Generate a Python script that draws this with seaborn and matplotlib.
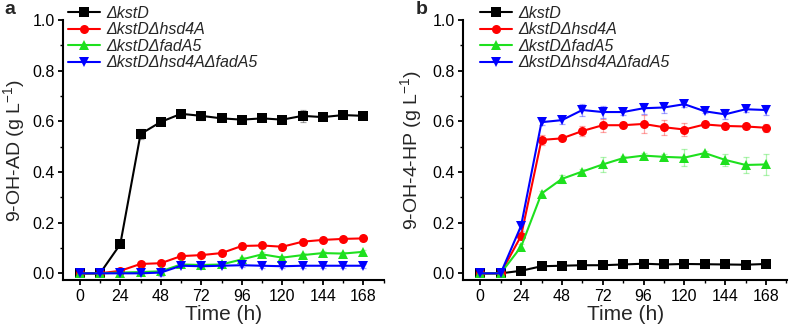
import numpy as np
import pandas as pd
import matplotlib
matplotlib.use("Agg")
import matplotlib.pyplot as plt
from matplotlib.ticker import MultipleLocator
import seaborn as sns

time_h = [0, 12, 24, 36, 48, 60, 72, 84, 96, 108, 120, 132, 144, 156, 168]
strains = ["ΔkstD", "ΔkstDΔhsd4A", "ΔkstDΔfadA5", "ΔkstDΔhsd4AΔfadA5"]

# Panel a: 9-OH-AD (g/L)
a_kstD = [0, 0, 0.115, 0.55, 0.598, 0.63, 0.622, 0.612, 0.607, 0.612, 0.607, 0.622, 0.617, 0.625, 0.622]
a_hsd4A = [0, 0, 0.01, 0.037, 0.04, 0.068, 0.072, 0.08, 0.108, 0.11, 0.105, 0.125, 0.132, 0.136, 0.138]
a_fadA5 = [0, 0, 0.003, 0.005, 0.008, 0.035, 0.033, 0.035, 0.055, 0.075, 0.062, 0.072, 0.08, 0.078, 0.085]
a_triple = [0, 0, 0, 0, 0.003, 0.03, 0.028, 0.03, 0.032, 0.03, 0.028, 0.03, 0.03, 0.03, 0.03]
a_kstD_err = [0, 0, 0.005, 0.02, 0.006, 0.008, 0.015, 0.012, 0.008, 0.01, 0.008, 0.025, 0.01, 0.01, 0.01]
a_hsd4A_err = [0, 0, 0.005, 0.006, 0.008, 0.008, 0.008, 0.008, 0.01, 0.01, 0.01, 0.01, 0.008, 0.008, 0.01]
a_fadA5_err = [0, 0, 0.004, 0.005, 0.006, 0.006, 0.006, 0.006, 0.008, 0.008, 0.008, 0.008, 0.008, 0.008, 0.008]
a_triple_err = [0, 0, 0.008, 0.008, 0.015, 0.006, 0.006, 0.006, 0.008, 0.008, 0.008, 0.008, 0.008, 0.008, 0.008]

# Panel b: 9-OH-4-HP (g/L)
b_kstD = [0, 0, 0.01, 0.028, 0.03, 0.032, 0.032, 0.035, 0.038, 0.035, 0.037, 0.036, 0.035, 0.034, 0.037]
b_hsd4A = [0, 0, 0.148, 0.527, 0.533, 0.562, 0.585, 0.585, 0.59, 0.577, 0.568, 0.588, 0.582, 0.58, 0.575]
b_fadA5 = [0, 0, 0.105, 0.315, 0.373, 0.402, 0.43, 0.455, 0.465, 0.46, 0.457, 0.475, 0.448, 0.428, 0.43]
b_triple = [0, 0, 0.188, 0.597, 0.605, 0.645, 0.637, 0.637, 0.652, 0.655, 0.668, 0.64, 0.628, 0.648, 0.645]
b_kstD_err = [0, 0, 0.004, 0.005, 0.005, 0.005, 0.005, 0.005, 0.005, 0.005, 0.005, 0.005, 0.005, 0.005, 0.008]
b_hsd4A_err = [0, 0, 0.01, 0.02, 0.01, 0.02, 0.025, 0.012, 0.035, 0.03, 0.025, 0.01, 0.01, 0.008, 0.015]
b_fadA5_err = [0, 0, 0.01, 0.01, 0.015, 0.01, 0.03, 0.01, 0.012, 0.01, 0.035, 0.01, 0.025, 0.03, 0.04]
b_triple_err = [0, 0, 0.02, 0.01, 0.015, 0.025, 0.025, 0.013, 0.022, 0.02, 0.012, 0.008, 0.02, 0.01, 0.02]

colors = ["#000000", "#ff0000", "#1ee01e", "#0000ff"]
markers = ["s", "o", "^", "v"]

sns.set_theme(style="ticks")
plt.rcParams["font.family"] = ["Liberation Sans", "DejaVu Sans"]
plt.rcParams["mathtext.fontset"] = "custom"
plt.rcParams["mathtext.rm"] = "Liberation Sans"
plt.rcParams["mathtext.it"] = "Liberation Sans:italic"


def make_df(series, errs):
    rows = []
    for name, vals, es in zip(strains, series, errs):
        for t, v, e in zip(time_h, vals, es):
            rows.append({"Time": t, "Value": v, "Err": e, "Strain": name})
    return pd.DataFrame(rows)


df_a = make_df([a_kstD, a_hsd4A, a_fadA5, a_triple],
               [a_kstD_err, a_hsd4A_err, a_fadA5_err, a_triple_err])
df_b = make_df([b_kstD, b_hsd4A, b_fadA5, b_triple],
               [b_kstD_err, b_hsd4A_err, b_fadA5_err, b_triple_err])

fig = plt.figure(figsize=(7.96, 3.30), dpi=100)
ax_a = fig.add_axes([0.079, 0.151, 0.404, 0.788])
ax_b = fig.add_axes([0.582, 0.151, 0.407, 0.788])


def draw(ax, df, ylabel, letter, leg_x, ylab_x, letter_x):
    palette = dict(zip(strains, colors))
    mk = dict(zip(strains, markers))
    for name in strains:
        sub = df[df["Strain"] == name]
        ax.errorbar(sub["Time"], sub["Value"], yerr=sub["Err"], fmt="none",
                    ecolor=palette[name], alpha=0.35, elinewidth=0.9,
                    capsize=2.5, capthick=0.9, zorder=2)
    sns.lineplot(data=df, x="Time", y="Value", hue="Strain", style="Strain",
                 hue_order=strains, style_order=strains, palette=palette,
                 markers=mk, dashes=False, markersize=6.5, linewidth=1.5,
                 markeredgewidth=0, ax=ax, zorder=3)
    ax.set_xlim(-10, 180.5)
    ax.set_ylim(-0.027, 1.0)
    ax.xaxis.set_major_locator(MultipleLocator(24))
    ax.xaxis.set_minor_locator(MultipleLocator(12))
    ax.yaxis.set_major_locator(MultipleLocator(0.2))
    ax.yaxis.set_minor_locator(MultipleLocator(0.1))
    ax.yaxis.set_major_formatter(matplotlib.ticker.FormatStrFormatter("%.1f"))
    sns.despine(ax=ax)
    for s in ["left", "bottom"]:
        ax.spines[s].set_linewidth(1.5)
        ax.spines[s].set_color("black")
    ax.tick_params(axis="both", which="major", direction="out", length=3.5,
                   width=1.3, labelsize=11.5, colors="black", pad=2.5)
    ax.tick_params(axis="both", which="minor", direction="out", length=2.5,
                   width=1.0, colors="black")
    ax.set_xlabel("Time (h)", fontsize=15, labelpad=1)
    ax.set_ylabel(ylabel, fontsize=14)
    ax.yaxis.set_label_coords(ylab_x, 0.5)
    ax.grid(False)
    leg = ax.legend(loc="upper left", bbox_to_anchor=(leg_x, 1.056),
                    frameon=False, fontsize=11.5, handlelength=2.0,
                    handletextpad=0.4, labelspacing=0.1, borderpad=0,
                    borderaxespad=0)
    for txt in leg.get_texts():
        txt.set_fontstyle("italic")
    ax.text(letter_x, 1.04, letter, transform=ax.transAxes, fontsize=14,
            fontweight="bold", va="center", ha="left")


draw(ax_a, df_a, "9-OH-AD (g L$^{-1}$)", "a", 0.015, -0.113, -0.181)
draw(ax_b, df_b, "9-OH-4-HP (g L$^{-1}$)", "b", 0.052, -0.12, -0.148)

fig.savefig("out.png", dpi=100)
